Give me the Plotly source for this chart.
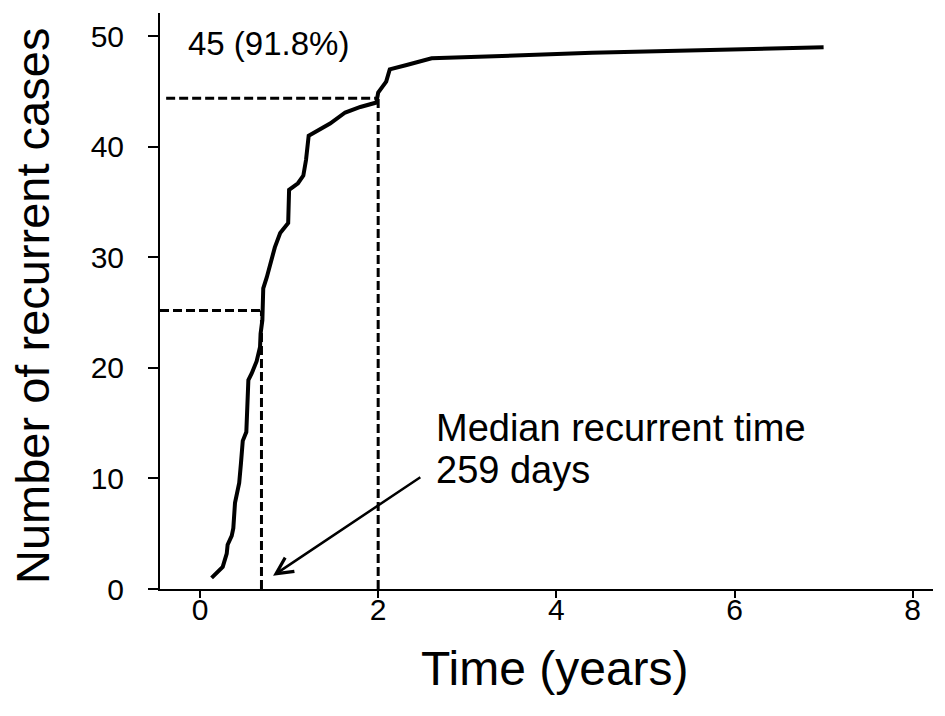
import plotly.graph_objects as go

# Cumulative recurrence curve (time in years, number of recurrent cases)
time_years = [0.13, 0.255, 0.30, 0.31, 0.356, 0.374, 0.393, 0.44, 0.46, 0.48,
              0.52, 0.53, 0.543, 0.58, 0.636, 0.674, 0.68, 0.70, 0.71, 0.71,
              0.75, 0.805, 0.84, 0.90, 0.99, 1.00, 1.10, 1.16, 1.19, 1.22,
              1.33, 1.46, 1.63, 1.80, 1.98, 2.00, 2.09, 2.13, 2.32, 2.60,
              4.40, 7.00]
cases = [1.0, 2.0, 3.2, 4.0, 4.8, 5.5, 7.8, 9.6, 11.4, 13.4,
         14.2, 16.0, 18.9, 19.5, 20.6, 21.9, 23.1, 24.3, 26.0, 27.2,
         28.2, 29.7, 30.9, 32.2, 33.1, 36.1, 36.7, 37.4, 38.8, 41.0,
         41.5, 42.1, 43.1, 43.6, 44.0, 44.9, 45.9, 47.0, 47.4, 48.0,
         48.5, 49.0]

x_ticks = [0, 2, 4, 6, 8]
y_ticks = [0, 10, 20, 30, 40, 50]

median_time = 0.69      # 259 days
median_cases = 25.2
two_year_time = 2.0
two_year_cases = 44.4
x_range = [-0.449, 8.228]
y_range = [0, 52.1]

x_title = "Time (years)"
y_title = "Number of recurrent cases"

font_family = "Arial, Liberation Sans, sans-serif"

fig = go.Figure()
fig.add_trace(go.Scatter(x=time_years, y=cases, mode="lines",
                         line=dict(color="black", width=4), showlegend=False,
                         hoverinfo="skip"))

dash_style = dict(color="black", width=3, dash="9px,4px")
fig.add_shape(type="line", xref="x", yref="y", x0=-0.38, x1=two_year_time,
              y0=two_year_cases, y1=two_year_cases, line=dash_style)
fig.add_shape(type="line", xref="x", yref="y", x0=two_year_time, x1=two_year_time,
              y0=0, y1=two_year_cases, line=dash_style)
fig.add_shape(type="line", xref="x", yref="y", x0=x_range[0], x1=median_time,
              y0=median_cases, y1=median_cases, line=dash_style)
fig.add_shape(type="line", xref="x", yref="y", x0=median_time, x1=median_time,
              y0=0, y1=median_cases, line=dash_style)

fig.add_annotation(x=-0.16, y=49.3, xref="x", yref="y", text="45 (91.8%)",
                   showarrow=False, xanchor="left", yanchor="middle",
                   font=dict(size=33, color="black", family=font_family))
fig.add_annotation(x=2.63, y=14.6, xref="x", yref="y",
                   text="Median recurrent time",
                   showarrow=False, xanchor="left", yanchor="middle",
                   font=dict(size=38, color="black", family=font_family))
fig.add_annotation(x=2.63, y=10.8, xref="x", yref="y",
                   text="259 days",
                   showarrow=False, xanchor="left", yanchor="middle",
                   font=dict(size=38, color="black", family=font_family))
fig.add_annotation(x=0.82, y=1.2, ax=2.49, ay=10.2, xref="x", yref="y",
                   axref="x", ayref="y", text="", showarrow=True,
                   arrowhead=5, arrowsize=1.3, arrowwidth=2.5, arrowcolor="black")

# axis titles
fig.add_annotation(x=0.5, y=0, xref="paper", yref="paper", text=x_title,
                   showarrow=False, xanchor="center", yanchor="middle",
                   xshift=8, yshift=-79,
                   font=dict(size=48, color="black", family=font_family))
fig.add_annotation(x=0, y=0.5, xref="paper", yref="paper", text=y_title,
                   showarrow=False, xanchor="center", yanchor="middle",
                   textangle=-90, xshift=-128, yshift=-5,
                   font=dict(size=47, color="black", family=font_family))

fig.update_layout(
    width=945, height=716,
    margin=dict(l=160, r=12, t=13, b=127),
    plot_bgcolor="white", paper_bgcolor="white",
    font=dict(family=font_family, color="black"),
    hovermode=False,
    xaxis=dict(range=x_range, tickvals=x_ticks, showgrid=False, zeroline=False,
               showline=True, linecolor="black", linewidth=2,
               ticks="outside", ticklen=7, tickwidth=2, tickcolor="black",
               tickfont=dict(size=30), ticklabelstandoff=-14),
    yaxis=dict(range=y_range, tickvals=y_ticks, showgrid=False, zeroline=False,
               showline=True, linecolor="black", linewidth=2,
               ticks="outside", ticklen=10, tickwidth=2, tickcolor="black",
               tickfont=dict(size=30), ticklabelstandoff=18),
)

fig.write_html("out.html", config={"displayModeBar": False},
               post_script="document.body.style.margin='0';")
